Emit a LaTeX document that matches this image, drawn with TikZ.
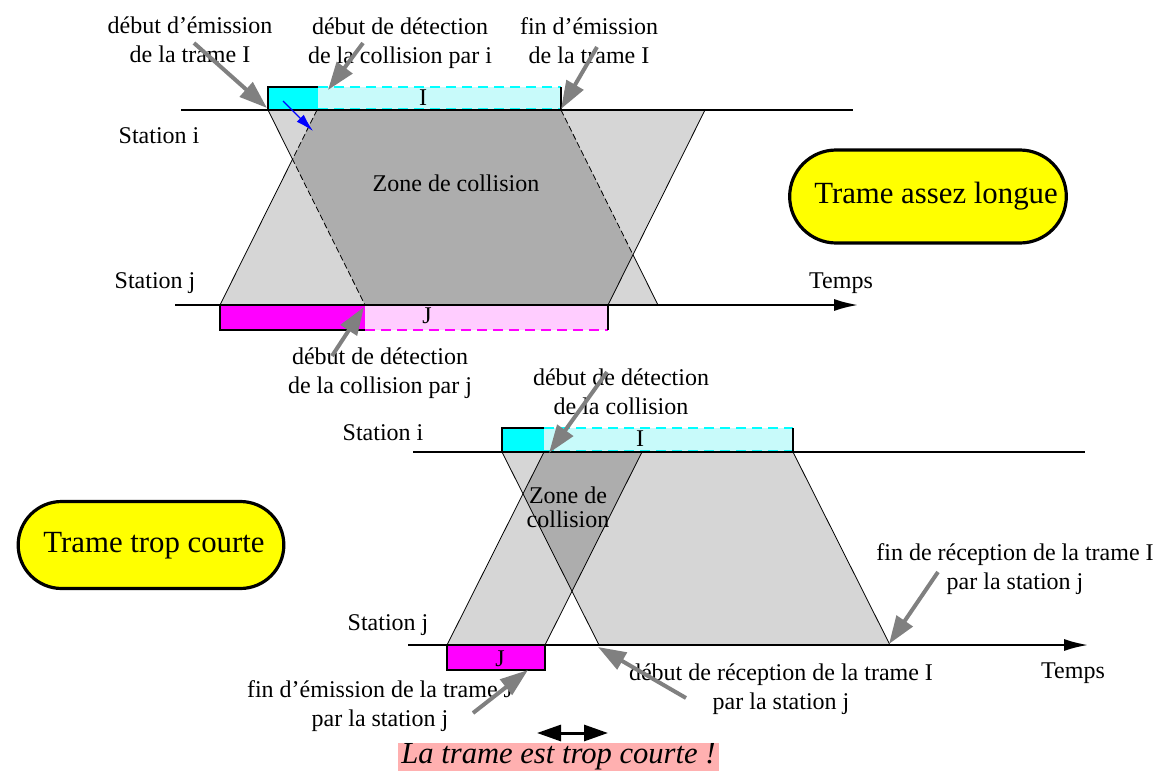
\documentclass[tikz,border=0pt]{standalone}
\usepackage{fontspec}
\setmainfont{Liberation Serif}
\usetikzlibrary{arrows.meta,shapes.misc}

\definecolor{lightzone}{gray}{0.84}
\definecolor{darkzone}{gray}{0.68}
\definecolor{pcyan}{RGB}{0,255,255}
\definecolor{pmagenta}{RGB}{255,0,255}
\definecolor{pyellow}{RGB}{255,255,0}
\definecolor{hcyan}{RGB}{200,250,250}
\definecolor{hpink}{RGB}{255,205,255}
\definecolor{pinklabel}{RGB}{255,176,176}
\definecolor{arrowgray}{RGB}{128,128,128}
\definecolor{pblue}{RGB}{0,0,255}

\tikzset{
  lbl/.style={font=\fontsize{12}{14.5}\selectfont, align=center, inner sep=0pt},
  stationline/.style={line width=1pt},
  timeaxis/.style={line width=1pt, -{Latex[length=12pt,width=6pt]}},
  pointer/.style={draw=arrowgray, line width=2pt, -{Triangle[length=14pt,width=9.5pt]}},
  bluepointer/.style={draw=pblue, line width=0.6pt, -{Latex[length=9pt,width=5pt]}},
  edge/.style={line width=0.4pt},
  zoneedge/.style={line width=0.4pt, dash pattern=on 3pt off 1.5pt},
  boxedge/.style={line width=1pt},
  cyandash/.style={draw=pcyan, line width=0.8pt, dash pattern=on 5pt off 3pt},
  magdash/.style={draw=pmagenta, line width=0.8pt, dash pattern=on 5pt off 3pt},
  pill/.style={rounded rectangle, draw, fill=pyellow, line width=1.6pt},
  pilltext/.style={font=\fontsize{15.4}{18}\selectfont, inner sep=0pt},
  shortnote/.style={fill=pinklabel, inner xsep=1.5pt, inner ysep=0.3pt,
    font=\itshape\fontsize{15.3}{18}\selectfont},
  twohead/.style={line width=1.5pt, {Triangle[length=12pt,width=8pt]}-{Triangle[length=12pt,width=8pt]}}
}

\begin{document}
\begin{tikzpicture}[x=0.5pt, y=-0.5pt]
\useasboundingbox (0,0) rectangle (1157,771);

% ================= TOP DIAGRAM (long frame) =================
\coordinate (tIa) at (268,110); \coordinate (tIb) at (561,110);
\coordinate (tIc) at (658,305); \coordinate (tId) at (365,305);
\coordinate (tJa) at (220,305); \coordinate (tJb) at (608,305);
\coordinate (tJc) at (705,110); \coordinate (tJd) at (317,110);
\coordinate (tXl) at (292.5,159.3); \coordinate (tXr) at (633,254.7);

\fill[lightzone] (tIa) -- (tIb) -- (tIc) -- (tId) -- cycle;
\fill[lightzone] (tJa) -- (tJb) -- (tJc) -- (tJd) -- cycle;
\fill[darkzone] (tJd) -- (tIb) -- (tXr) -- (tJb) -- (tId) -- (tXl) -- cycle;

\draw[edge] (tIa) -- (tXl) -- (tJa);
\draw[edge] (tJc) -- (tXr) -- (tIc);
\draw[edge] (tXr) -- (tJb);
\draw[zoneedge] (tJd) -- (tXl) -- (tId);
\draw[zoneedge] (tIb) -- (tXr);

% frame I box (top)
\fill[pcyan] (268,87) rectangle (318,110);
\fill[hcyan] (318,87) rectangle (561,110);
\draw[cyandash] (318,87) -- (561,87);
\draw[cyandash] (318,108.5) -- (561,108.5);
\draw[boxedge] (318,87) -- (268,87) -- (268,110);
\draw[boxedge] (561,87) -- (561,110);

% frame J box (top)
\fill[pmagenta] (220,305) rectangle (365,330);
\fill[hpink] (365,305) rectangle (608,330);
\draw[magdash] (365,330) -- (608,330);
\draw[boxedge] (365,330) -- (220,330) -- (220,305);
\draw[boxedge] (608,305) -- (608,330);

% station lines (top)
\coordinate (ti0) at (181,110); \coordinate (ti1) at (853,110);
\coordinate (tj0) at (175,305); \coordinate (tj1) at (858,305);
\draw[stationline] (ti0) -- (ti1);
\draw[timeaxis] (tj0) -- (tj1);

% blue arrow
\coordinate (bA) at (283,101); \coordinate (bB) at (313,131);
\draw[bluepointer] (bA) -- (bB);

% texts (top)
\node[lbl] (sti1) at (159,136) {Station i};
\node[lbl] (stj1) at (155,283) {Station j};
\node[lbl] (temps1) at (841,283.5) {Temps};
\node[lbl] (zone1) at (456,183) {Zone de collision};
\node[lbl] (I1) at (423,98) {I};
\node[lbl] (J1) at (427,316) {J};
\node[lbl] (l1) at (190,40) {début d'émission\\de la trame I};
\node[lbl] (l2) at (400,43.5) {début de détection\\de la collision par i};
\node[lbl] (l3) at (589,40.5) {fin d'émission\\de la trame I};
\node[lbl] (l4) at (380,373) {début de détection\\de la collision par j};

\node[pill, minimum width=145pt, minimum height=46.5pt] (p1) at (928,196.5) {};
\node[pilltext] (p1t) at (936,196) {Trame assez longue};

% ================= BOTTOM DIAGRAM (short frame) =================
\coordinate (bIa) at (502,452); \coordinate (bIb) at (793,452);
\coordinate (bIc) at (890,645); \coordinate (bId) at (599,645);
\coordinate (bJa) at (447,645); \coordinate (bJb) at (545,645);
\coordinate (bJc) at (642,452); \coordinate (bJd) at (544,452);
\coordinate (bXl) at (523,493.8); \coordinate (bXr) at (572,591.3);

\fill[lightzone] (bIa) -- (bIb) -- (bIc) -- (bId) -- cycle;
\fill[lightzone] (bJa) -- (bJb) -- (bJc) -- (bJd) -- cycle;
\fill[darkzone] (bJd) -- (bJc) -- (bXr) -- (bXl) -- cycle;
\draw[edge] (bIa) -- (bId);
\draw[edge] (bIb) -- (bIc);
\draw[edge] (bJa) -- (bJd);
\draw[edge] (bJb) -- (bJc);

% frame I box (bottom)
\fill[pcyan] (502,428) rectangle (544,452);
\fill[hcyan] (544,428) rectangle (793,452);
\draw[cyandash] (544,428) -- (793,428);
\draw[cyandash] (544,450.5) -- (793,450.5);
\draw[boxedge] (544,428) -- (502,428) -- (502,452);
\draw[boxedge] (793,428) -- (793,452);

% frame J box (bottom)
\fill[pmagenta] (447,645) rectangle (545,670);
\draw[boxedge] (447,645) rectangle (545,670);

% station lines (bottom)
\coordinate (bi0) at (413,452); \coordinate (bi1) at (1085,452);
\coordinate (bj0) at (408,645); \coordinate (bj1) at (1088,645);
\draw[stationline] (bi0) -- (bi1);
\draw[timeaxis] (bj0) -- (bj1);

% texts (bottom)
\node[lbl] (sti2) at (383,433) {Station i};
\node[lbl] (stj2) at (388,625) {Station j};
\node[lbl] (I2) at (640,439) {I};
\node[lbl] (J2) at (500,659) {J};
\node[lbl, font=\fontsize{12}{12}\selectfont] (zone2) at (568,507.5) {Zone de\\collision};
\node[lbl] (temps2) at (1073,673.5) {Temps};
\node[lbl] (l5) at (621,392) {début de détection\\de la collision};
\node[lbl] (l6) at (1015,569.5) {fin de réception de la trame I\\par la station j};
\node[lbl] (l7) at (781,689) {début de réception de la trame I\\par la station j};
\node[lbl] (l8) at (380,706.5) {fin d'émission de la trame J\\par la station j};

\node[pill, minimum width=139.5pt, minimum height=43.5pt] (p2) at (151,545) {};
\node[pilltext] (p2t) at (154,546) {Trame trop courte};

\node[shortnote] (note) at (558.5,757) {La trame est trop courte !};
\coordinate (dA) at (537,733); \coordinate (dB) at (608,733);
\draw[twohead] (dA) -- (dB);

% ================= gray pointers =================
\coordinate (a1s) at (194,43);  \coordinate (a1e) at (267,108);
\coordinate (a2s) at (363,43);  \coordinate (a2e) at (328,90);
\coordinate (a3s) at (597,47);  \coordinate (a3e) at (561,109);
\coordinate (a4s) at (332,356); \coordinate (a4e) at (364,307);
\coordinate (a5s) at (607,372); \coordinate (a5e) at (549,453);
\coordinate (a6s) at (938,572); \coordinate (a6e) at (889,644);
\coordinate (a7s) at (686,698); \coordinate (a7e) at (598,647);
\coordinate (a8s) at (473,713); \coordinate (a8e) at (528,670);
\foreach \k in {1,...,8} {\draw[pointer] (a\k s) -- (a\k e);}
\end{tikzpicture}
\end{document}
